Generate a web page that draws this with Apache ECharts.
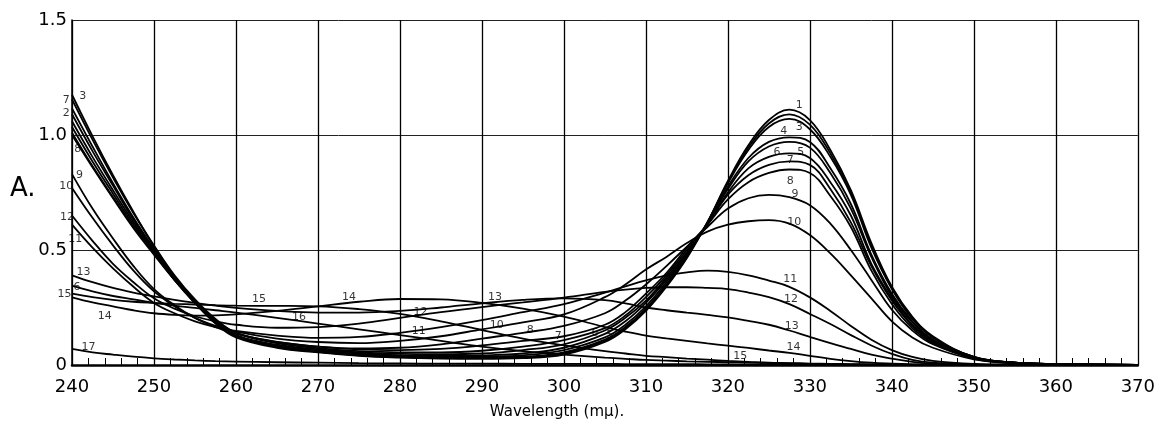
<!DOCTYPE html>
<html><head><meta charset="utf-8">
<script src="https://cdn.jsdelivr.net/npm/echarts@6/dist/echarts.min.js"></script>
<style>html,body{margin:0;padding:0;background:#fff}#chart{width:1158px;height:423px}</style>
</head><body><div id="chart"></div>
<script>
// Wavelength sample points (mμ)
const wavelengths = [240,242.5,245,247.5,250,252.5,255,257.5,260,
  265,270,275,280,285,290,295,300,305,
  307.5,310,312.5,315,317.5,320,322.5,325,327.5,330,332.5,335,337.5,340,342.5,345,
  350,355,360,370];

// Absorbance of the 17 curves at those wavelengths
const curve1 = [1.09,0.93,0.78,0.63,0.50,0.375,0.27,0.18,0.12,
  0.075,0.055,0.04,0.032,0.028,0.027,0.03,0.045,0.10,
  0.155,0.235,0.34,0.465,0.62,0.80,0.955,1.065,1.11,1.065,0.935,0.76,0.53,0.34,0.21,0.125,
  0.035,0.01,0.004,0];
const curve2 = [1.115,0.95,0.79,0.64,0.505,0.38,0.275,0.185,0.125,
  0.078,0.057,0.042,0.034,0.03,0.03,0.033,0.05,0.105,
  0.16,0.24,0.345,0.47,0.62,0.795,0.945,1.05,1.09,1.045,0.92,0.75,0.52,0.335,0.205,0.12,
  0.035,0.01,0.004,0];
const curve3 = [1.175,0.995,0.825,0.665,0.515,0.385,0.28,0.19,0.128,
  0.08,0.058,0.043,0.035,0.032,0.033,0.036,0.055,0.11,
  0.165,0.245,0.35,0.475,0.62,0.79,0.935,1.035,1.07,1.025,0.905,0.74,0.51,0.33,0.20,0.12,
  0.035,0.01,0.004,0];
const curve4 = [1.06,0.905,0.76,0.62,0.495,0.375,0.27,0.185,0.125,
  0.08,0.06,0.046,0.038,0.035,0.036,0.042,0.065,0.12,
  0.175,0.255,0.36,0.48,0.615,0.775,0.90,0.97,0.99,0.97,0.855,0.70,0.48,0.31,0.19,0.11,
  0.032,0.01,0.004,0];
const curve5 = [1.035,0.885,0.745,0.61,0.49,0.37,0.27,0.185,0.127,
  0.083,0.063,0.05,0.042,0.04,0.042,0.05,0.075,0.135,
  0.19,0.27,0.37,0.485,0.615,0.765,0.885,0.95,0.97,0.945,0.835,0.68,0.47,0.30,0.185,0.11,
  0.032,0.01,0.004,0];
const curve6 = [1.01,0.865,0.73,0.60,0.485,0.37,0.27,0.19,0.13,
  0.088,0.068,0.055,0.048,0.047,0.05,0.065,0.09,0.15,
  0.205,0.28,0.38,0.49,0.61,0.75,0.855,0.905,0.92,0.90,0.795,0.65,0.44,0.29,0.175,0.105,
  0.03,0.009,0.003,0];
const curve7 = [1.155,0.98,0.815,0.66,0.52,0.39,0.285,0.20,0.14,
  0.095,0.073,0.06,0.055,0.055,0.062,0.08,0.108,0.16,
  0.215,0.295,0.39,0.50,0.61,0.74,0.825,0.87,0.885,0.87,0.765,0.62,0.43,0.28,0.17,0.10,
  0.03,0.009,0.003,0];
const curve8 = [1.0,0.86,0.725,0.595,0.48,0.37,0.275,0.195,0.14,
  0.10,0.08,0.068,0.065,0.07,0.085,0.105,0.125,0.175,
  0.23,0.31,0.40,0.51,0.61,0.72,0.795,0.835,0.85,0.835,0.735,0.60,0.41,0.265,0.16,0.095,
  0.028,0.008,0.003,0];
const curve9 = [0.83,0.68,0.55,0.43,0.33,0.26,0.205,0.165,0.135,
  0.10,0.08,0.072,0.075,0.09,0.115,0.14,0.17,0.225,
  0.28,0.35,0.43,0.515,0.60,0.68,0.725,0.74,0.73,0.695,0.615,0.50,0.37,0.24,0.15,0.09,
  0.03,0.01,0.004,0];
const curve10 = [0.77,0.64,0.52,0.41,0.32,0.255,0.205,0.17,0.145,
  0.115,0.10,0.095,0.105,0.125,0.155,0.185,0.22,0.295,
  0.35,0.415,0.47,0.53,0.58,0.61,0.625,0.63,0.615,0.565,0.485,0.39,0.29,0.19,0.12,0.075,
  0.025,0.008,0.003,0];
const curve11 = [0.61,0.51,0.42,0.34,0.27,0.225,0.19,0.165,0.148,
  0.128,0.118,0.122,0.14,0.165,0.195,0.23,0.265,0.315,
  0.342,0.368,0.39,0.403,0.41,0.405,0.39,0.367,0.34,0.294,0.235,0.17,0.11,0.065,0.035,0.018,
  0.005,0.002,0.001,0];
const curve12 = [0.65,0.54,0.44,0.36,0.29,0.245,0.212,0.19,0.175,
  0.162,0.165,0.18,0.205,0.23,0.252,0.272,0.293,0.318,
  0.328,0.335,0.338,0.338,0.335,0.33,0.315,0.295,0.265,0.222,0.178,0.13,0.085,0.048,0.022,0.01,
  0.003,0.001,0,0];
const curve13 = [0.39,0.36,0.335,0.315,0.298,0.283,0.27,0.258,0.248,
  0.235,0.228,0.228,0.235,0.25,0.268,0.283,0.29,0.282,
  0.268,0.25,0.238,0.228,0.218,0.207,0.192,0.175,0.15,0.122,0.095,0.07,0.045,0.028,0.014,0.006,
  0.002,0,0,0];
const curve14 = [0.294,0.272,0.255,0.238,0.225,0.218,0.215,0.216,0.22,
  0.235,0.255,0.275,0.287,0.285,0.27,0.245,0.21,0.165,
  0.145,0.128,0.116,0.105,0.094,0.084,0.074,0.063,0.053,0.04,0.027,0.017,0.01,0.006,0.003,0.001,
  0,0,0,0];
const curve15 = [0.31,0.295,0.283,0.275,0.27,0.266,0.263,0.26,0.258,
  0.257,0.255,0.243,0.222,0.19,0.152,0.115,0.085,0.06,
  0.05,0.04,0.034,0.028,0.023,0.018,0.014,0.01,0.008,0.005,0.003,0.002,0.001,0,0,0,
  0,0,0,0];
const curve16 = [0.345,0.32,0.30,0.285,0.27,0.258,0.248,0.238,0.228,
  0.205,0.18,0.155,0.13,0.105,0.08,0.06,0.045,0.032,
  0.027,0.022,0.019,0.016,0.014,0.012,0.01,0.008,0.007,0.006,0.005,0.004,0.003,0.002,0.001,0,
  0,0,0,0];
const curve17 = [0.07,0.055,0.045,0.036,0.029,0.024,0.02,0.017,0.015,
  0.012,0.01,0.008,0.007,0.006,0.006,0.005,0.005,0.005,
  0.004,0.004,0.004,0.004,0.003,0.003,0.003,0.003,0.003,0.002,0.002,0.002,0.002,0.001,0.001,0.001,
  0,0,0,0];

const curves = [curve1,curve2,curve3,curve4,curve5,curve6,curve7,curve8,curve9,
  curve10,curve11,curve12,curve13,curve14,curve15,curve16,curve17];

// Curve number annotations: [wavelength, absorbance, text]
const curveLabels = [
  [239.3,1.153,'7'],[241.3,1.167,'3'],[239.3,1.096,'2'],[240.7,0.94,'8'],[240.9,0.825,'9'],
  [239.3,0.777,'10'],[239.4,0.643,'12'],[240.4,0.549,'11'],[241.4,0.403,'13'],[240.6,0.338,'6'],
  [239.1,0.31,'15'],[244.0,0.214,'14'],[242.0,0.079,'17'],
  [262.8,0.288,'15'],[267.7,0.21,'16'],[273.8,0.294,'14'],[282.5,0.228,'12'],[282.3,0.148,'11'],
  [291.6,0.294,'13'],[291.8,0.175,'10'],[295.9,0.151,'8'],[299.3,0.127,'7'],[303.8,0.14,'6'],[305.6,0.128,'5'],
  [328.7,1.131,'1'],[328.7,1.036,'3'],[326.8,1.015,'4'],[328.9,0.927,'5'],[326.0,0.927,'6'],
  [327.6,0.89,'7'],[327.6,0.80,'8'],[328.2,0.745,'9'],[328.1,0.62,'10'],[327.6,0.374,'11'],
  [327.7,0.287,'12'],[327.8,0.167,'13'],[328.0,0.079,'14'],[321.5,0.039,'15']
];

const yAxisTitle = 'A.';
const xAxisTitle = 'Wavelength (mμ).';

const FONT = 'DejaVu Sans';
const chart = echarts.init(document.getElementById('chart'), null, {renderer:'canvas'});

const series = curves.map((c, k) => ({
  name: String(k + 1),
  type: 'line',
  data: wavelengths.map((w, i) => [w, c[i]]),
  symbol: 'none',
  smooth: 0.4,
  lineStyle: {color: '#000', width: 1.8},
  z: 3,
  silent: true
}));

series.push({
  type: 'scatter',
  data: curveLabels.map(d => ({name: d[2], value: [d[0], d[1]]})),
  symbolSize: 0,
  clip: false,
  silent: true,
  z: 10,
  label: {show: true, position: 'inside', formatter: p => p.name,
    fontSize: 11, fontFamily: FONT, color: '#000'}
});

chart.setOption({
  animation: false,
  backgroundColor: '#fff',
  grid: {left: 72, right: 16, top: 20, bottom: 58, containLabel: false},
  xAxis: {
    type: 'value', min: 240, max: 370, interval: 10,
    axisLine: {show: true, lineStyle: {color: '#000', width: 2.5}},
    axisTick: {show: false, inside: true, length: 7},
    minorTick: {show: true, splitNumber: 5, length: 7, lineStyle: {color: '#000', width: 1}},
    splitLine: {show: true, lineStyle: {color: '#000', width: 1.3}},
    axisLabel: {color: '#000', fontSize: 18, fontFamily: FONT, margin: 13}
  },
  yAxis: {
    type: 'value', min: 0, max: 1.5, interval: 0.5,
    axisLine: {show: true, lineStyle: {color: '#000', width: 1.5}},
    axisTick: {show: false},
    splitLine: {show: true, lineStyle: {color: '#222', width: 1}},
    axisLabel: {color: '#000', fontSize: 18, fontFamily: FONT, margin: 5,
      formatter: v => (v === 0 ? '0' : v.toFixed(1))}
  },
  graphic: [
    {type: 'text', x: 10, y: 176, silent: true,
      style: {text: yAxisTitle, font: '26px ' + FONT, fill: '#000'}},
    {type: 'text', x: 557, y: 405, silent: true,
      style: {text: xAxisTitle, font: '15px ' + FONT, fill: '#000', textAlign: 'center'}}
  ],
  series: series
});
</script></body></html>
